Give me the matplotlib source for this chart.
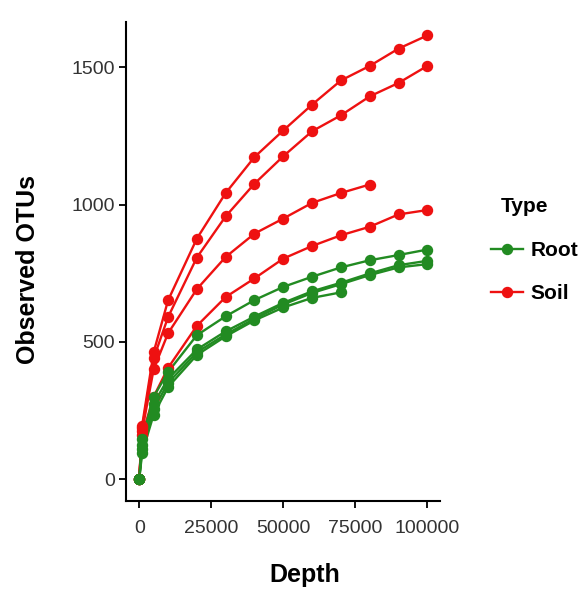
import numpy as np
import matplotlib
matplotlib.use('Agg')
import matplotlib.pyplot as plt

plt.rcParams['font.family'] = ['Liberation Sans', 'DejaVu Sans']

# sequencing depths used for rarefaction
depth = [0, 1000, 5000, 10000, 20000, 30000, 40000, 50000, 60000, 70000, 80000, 90000, 100000]

# Soil samples (red)
soil_1 = [0, 195, 462, 651, 876, 1042, 1173, 1270, 1364, 1452, 1505, 1568, 1616]
soil_2 = [0, 185, 440, 590, 807, 957, 1076, 1176, 1267, 1325, 1394, 1443, 1505]
soil_3 = [0, 175, 400, 531, 692, 809, 894, 949, 1006, 1042, 1073]
soil_4 = [0, 160, 300, 405, 558, 663, 731, 803, 849, 888, 919, 964, 980]

# Root samples (green)
root_1 = [0, 145, 300, 390, 524, 593, 652, 700, 737, 771, 797, 816, 836]
root_2 = [0, 125, 275, 365, 472, 538, 592, 642, 684, 715, 749, 779, 795]
root_3 = [0, 110, 255, 350, 462, 527, 584, 636, 678, 710, 743, 771, 783]
root_4 = [0, 95, 235, 335, 452, 520, 578, 625, 660, 680]

soil = [soil_1, soil_2, soil_3, soil_4]
root = [root_1, root_2, root_3, root_4]

red = '#EE1111'
green = '#228B22'
lw = 1.7
ms = 7.2

fig = plt.figure(figsize=(5.82, 5.90), dpi=100)
ax = fig.add_axes([126 / 582, 1 - 501 / 590, (440 - 126) / 582, (501 - 22) / 590])

# lines first, then points (like geom_line + geom_point)
for s in soil:
    ax.plot(depth[:len(s)], s, color=red, lw=lw, zorder=2)
for r in root:
    ax.plot(depth[:len(r)], r, color=green, lw=lw, zorder=2)
for s in soil:
    ax.plot(depth[:len(s)], s, 'o', color=red, ms=ms, zorder=3)
for r in root:
    ax.plot(depth[:len(r)], r, 'o', color=green, ms=ms, zorder=3)

ax.set_xlim(-4600, 104400)
ax.set_ylim(-80, 1665)
ax.set_xticks([0, 25000, 50000, 75000, 100000])
ax.set_yticks([0, 500, 1000, 1500])

for side in ['top', 'right']:
    ax.spines[side].set_visible(False)
for side in ['left', 'bottom']:
    ax.spines[side].set_linewidth(1.5)
ax.tick_params(length=5, width=1.3, labelsize=14, labelcolor='#333333')
ax.tick_params(axis='y', pad=3)
ax.tick_params(axis='x', pad=9)

ax.set_xlabel('Depth', fontsize=18, fontweight='bold')
ax.set_ylabel('Observed OTUs', fontsize=18, fontweight='bold')
ax.xaxis.set_label_coords((305 - 126) / 314, (501 - 563) / 479)
ax.yaxis.set_label_coords((16 - 126) / 314, (501 - 269) / 479)
ax.yaxis.label.set_va('top')

# legend
h_root, = ax.plot([], [], '-o', color=green, lw=lw, ms=ms)
h_soil, = ax.plot([], [], '-o', color=red, lw=lw, ms=ms)
leg = ax.legend([h_root, h_soil], ['Root', 'Soil'],
                loc='center left', bbox_to_anchor=(491 / 582, 1 - 272 / 590),
                bbox_transform=fig.transFigure, frameon=False,
                prop={'size': 15, 'weight': 'bold'},
                handlelength=1.55, handletextpad=0.35, labelspacing=1.15,
                borderpad=0, borderaxespad=0)
fig.text(501 / 582, 1 - 206 / 590, 'Type', fontsize=15, fontweight='bold',
         ha='left', va='center')

fig.savefig('out.png', dpi=100, facecolor='white')
